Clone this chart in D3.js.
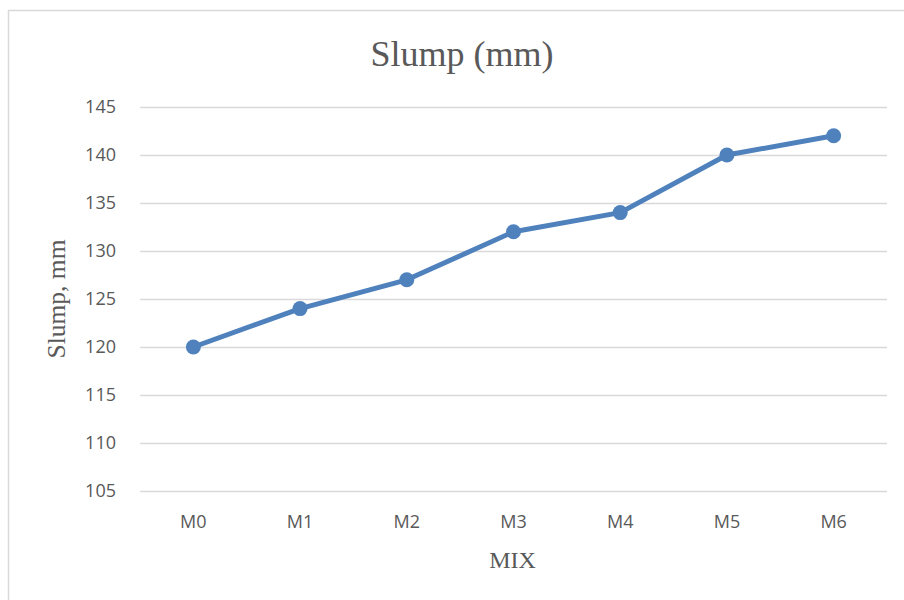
<!DOCTYPE html>
<html><head><meta charset="utf-8">
<script src="https://cdn.jsdelivr.net/npm/d3@7"></script>
<style>html,body{margin:0;padding:0;background:#fff;}svg{display:block;}</style>
</head><body>
<script>
const categories = ["M0","M1","M2","M3","M4","M5","M6"];
const slumpValues = [120,124,127,132,134,140,142];
const yTicks = [105,110,115,120,125,130,135,140,145];

(function(){
const W = 904, H = 600;
const svg = d3.select("body").append("svg").attr("width", W).attr("height", H);
svg.append("rect").attr("x", 8.5).attr("y", 10.5).attr("width", 920).attr("height", 620)
  .attr("fill", "#fff").attr("stroke", "#d9d9d9").attr("stroke-width", 1.5);

const mLeft = 140, mRight = 887, mTop = 107, mBottom = 491;
const x = d3.scaleBand().domain(categories).range([mLeft, mRight]).padding(0);
const y = d3.scaleLinear().domain([105, 145]).range([mBottom, mTop]);
const sans = "'Open Sans', 'Liberation Sans', sans-serif";
const serif = "'Liberation Serif', 'Times New Roman', serif";

const yAxis = svg.append("g").attr("transform", `translate(${mLeft},0)`)
  .call(d3.axisLeft(y).tickValues(yTicks).tickSize(-(mRight - mLeft)).tickPadding(24));
yAxis.select(".domain").remove();
yAxis.selectAll(".tick line").attr("stroke", "#d9d9d9").attr("stroke-width", 1.3);
yAxis.selectAll(".tick text").attr("fill", "#595959").attr("font-family", sans).attr("font-size", 18);

const xAxis = svg.append("g").attr("transform", `translate(0,${mBottom})`)
  .call(d3.axisBottom(x).tickSize(0).tickPadding(24));
xAxis.select(".domain").remove();
xAxis.selectAll(".tick text").attr("fill", "#595959").attr("font-family", sans).attr("font-size", 18);

const cx = d => x(d) + x.bandwidth() / 2;
const line = d3.line().x((d, i) => cx(categories[i])).y(d => y(d));
svg.append("path").datum(slumpValues).attr("d", line).attr("fill", "none")
  .attr("stroke", "#4f81bd").attr("stroke-width", 5).attr("stroke-linejoin", "round");
svg.selectAll("circle.pt").data(slumpValues).enter().append("circle").attr("class", "pt")
  .attr("cx", (d, i) => cx(categories[i])).attr("cy", d => y(d)).attr("r", 7.5).attr("fill", "#4f81bd");

svg.append("text").attr("x", 462).attr("y", 66).attr("text-anchor", "middle")
  .attr("font-family", serif).attr("font-size", 36).attr("fill", "#595959")
  .text("Slump (mm)");
svg.append("text").attr("transform", "translate(65,299) rotate(-90)").attr("text-anchor", "middle")
  .attr("font-family", serif).attr("font-size", 25.5).attr("fill", "#595959")
  .text("Slump, mm");
svg.append("text").attr("x", (mLeft + mRight) / 2 - 1).attr("y", 568).attr("text-anchor", "middle")
  .attr("font-family", serif).attr("font-size", 24).attr("fill", "#595959")
  .text("MIX");
})();
</script>
</body></html>
